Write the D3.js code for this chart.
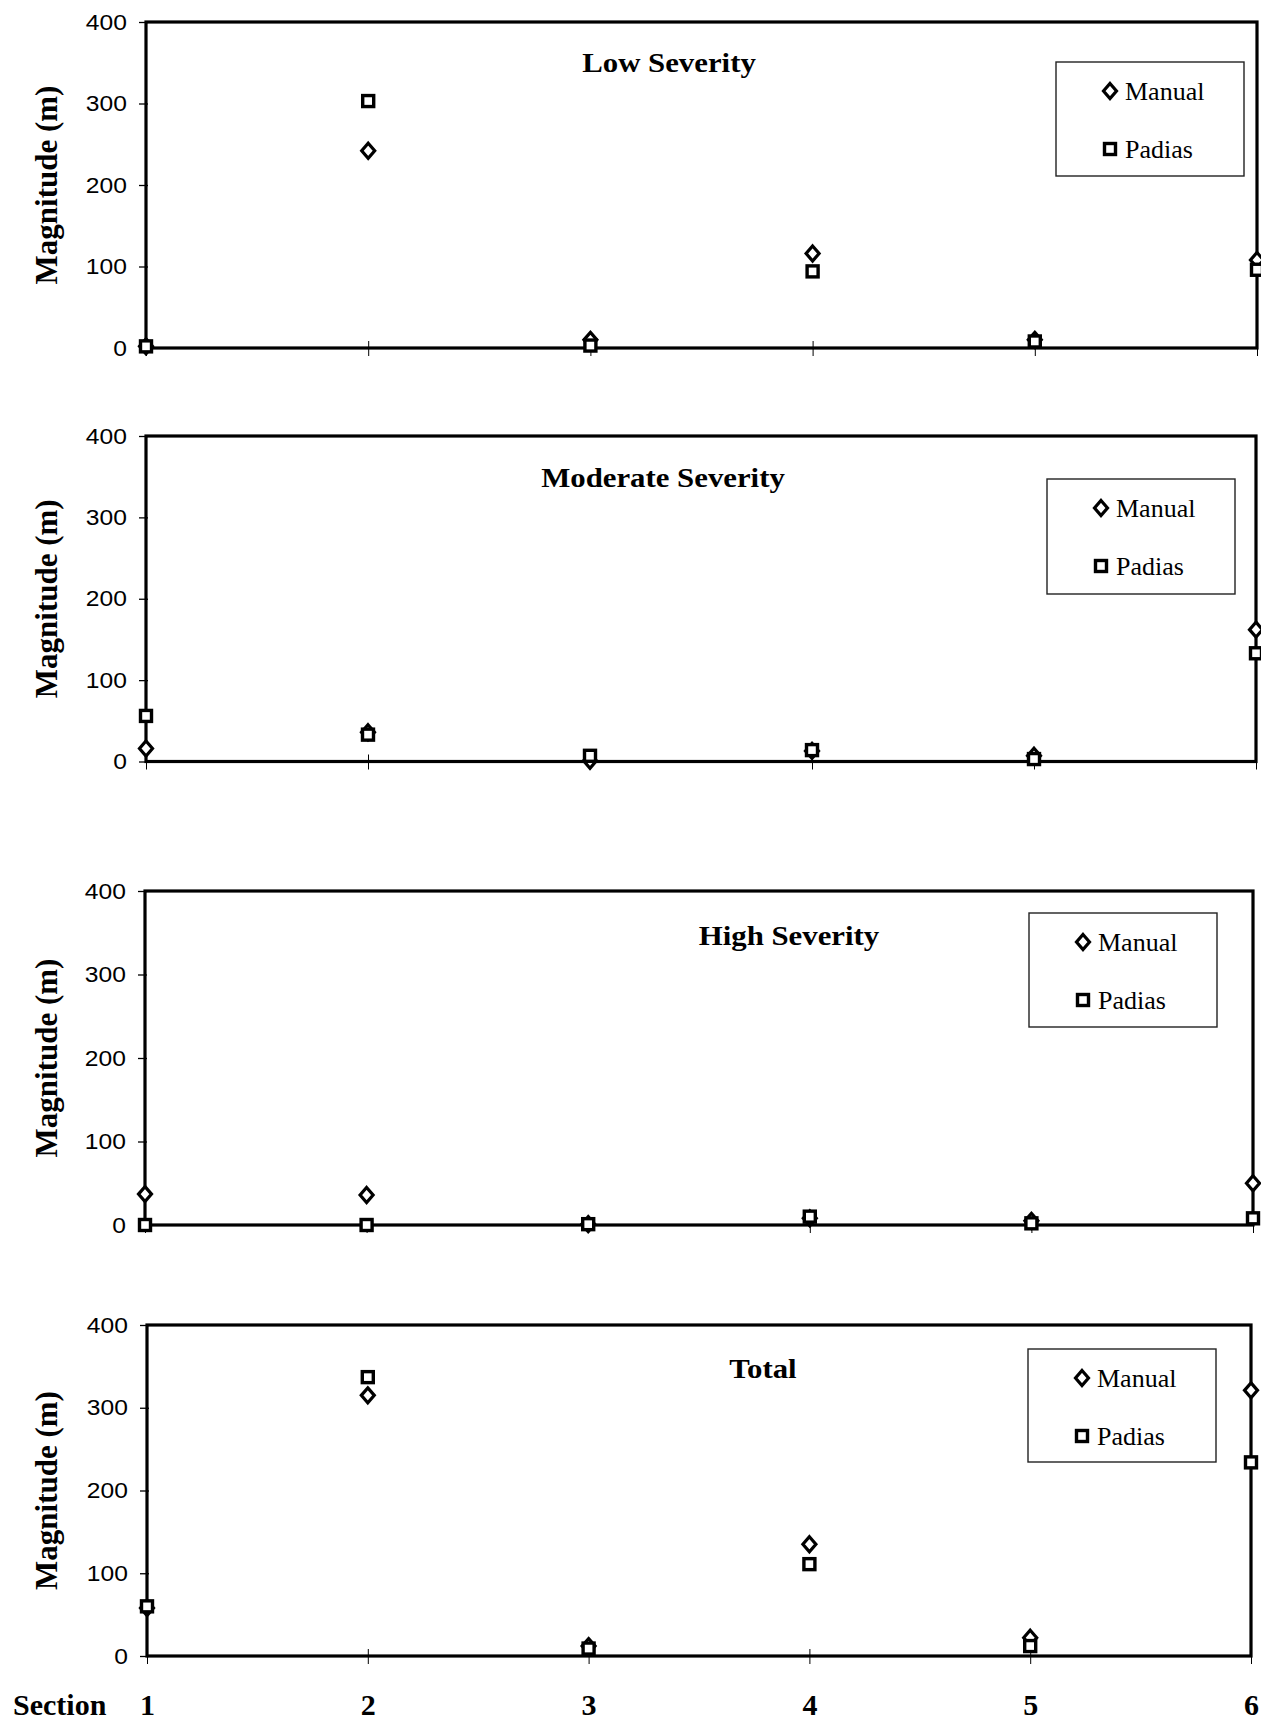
<!DOCTYPE html>
<html>
<head>
<meta charset="utf-8">
<script src="https://cdn.jsdelivr.net/npm/d3@7"></script>
<style>
  html, body { margin: 0; padding: 0; background: #fff; }
  svg { display: block; }
</style>
</head>
<body>
<svg id="chart" width="1261" height="1721"></svg>
<script>
// ---------------- DATA ----------------
const sections = [1, 2, 3, 4, 5, 6];
const yTicks = [0, 100, 200, 300, 400];
const panelTitles = ["Low Severity", "Moderate Severity", "High Severity", "Total"];
const seriesNames = ["Manual", "Padias"];

const lowManual      = [2, 242, 10, 116, 10, 108];
const lowPadias      = [2, 303, 3, 94, 8, 96];
const moderateManual = [16, 36, 1, 13, 7, 162];
const moderatePadias = [56, 33, 7, 14, 3, 133];
const highManual     = [37, 36, 1, 8, 5, 50];
const highPadias     = [0, 0, 1, 10, 2, 8];
const totalManual    = [58, 315, 12, 135, 22, 321];
const totalPadias    = [60, 337, 9, 111, 12, 234];

const xAxisTitle = "Section";
const yAxisTitle = "Magnitude (m)";

// ---------------- LAYOUT ----------------
const panels = [
  { title: panelTitles[0], manual: lowManual, padias: lowPadias },
  { title: panelTitles[1], manual: moderateManual, padias: moderatePadias },
  { title: panelTitles[2], manual: highManual, padias: highPadias },
  { title: panelTitles[3], manual: totalManual, padias: totalPadias }
];
const boxes = [
  { left: 146, right: 1257, top: 22,  bottom: 348,  titleX: 669, titleY: 72,   lg: { x0: 1056, x1: 1244, y0: 62,  y1: 176 } },
  { left: 146, right: 1256, top: 436, bottom: 761.5, titleX: 663, titleY: 487, lg: { x0: 1047, x1: 1235, y0: 479, y1: 594 } },
  { left: 145, right: 1253, top: 891, bottom: 1225, titleX: 789, titleY: 945,  lg: { x0: 1029, x1: 1217, y0: 913, y1: 1027 } },
  { left: 147, right: 1251, top: 1325, bottom: 1656, titleX: 763, titleY: 1378, lg: { x0: 1028, x1: 1216, y0: 1349, y1: 1462 } }
];

const SERIF = "'Liberation Serif', 'Times New Roman', Times, serif";
const SANS = "'Liberation Sans', Arial, Helvetica, sans-serif";

const svg = d3.select("#chart");

const diamondPath = (hw, hh) => `M0,${-hh}L${hw},0L0,${hh}L${-hw},0Z`;

function drawMarker(g, type, x, y) {
  if (type === "Manual") {
    g.append("path")
      .attr("d", diamondPath(6.5, 7.5))
      .attr("transform", `translate(${x},${y})`)
      .attr("fill", "#fff").attr("stroke", "#000").attr("stroke-width", 3.2)
      .attr("stroke-linejoin", "miter");
  } else {
    g.append("rect")
      .attr("x", x - 5.5).attr("y", y - 5.5)
      .attr("width", 11).attr("height", 11)
      .attr("fill", "#fff").attr("stroke", "#000").attr("stroke-width", 3.4);
  }
}

panels.forEach((p, i) => {
  const b = boxes[i];
  const g = svg.append("g");

  const x = d3.scalePoint().domain(sections).range([b.left, b.right]);
  const y = d3.scaleLinear().domain([0, 400]).range([b.bottom, b.top]);

  // frame
  g.append("rect")
    .attr("x", b.left).attr("y", b.top)
    .attr("width", b.right - b.left).attr("height", b.bottom - b.top)
    .attr("fill", "none").attr("stroke", "#000").attr("stroke-width", 3.2);

  // y axis
  const ya = g.append("g")
    .attr("transform", `translate(${b.left},0)`)
    .call(d3.axisLeft(y).tickValues(yTicks).tickSize(7).tickPadding(10).tickFormat(d3.format("d")));
  ya.select(".domain").remove();
  ya.selectAll(".tick line").attr("stroke", "#000").attr("stroke-width", 1.3).attr("x2", -7).attr("x1", 2);
  ya.selectAll(".tick text")
    .attr("font-family", SANS).attr("font-size", 22).attr("fill", "#000")
    .attr("transform", "scale(1.12,1)");

  // x axis ticks (crossing)
  const xa = g.append("g")
    .attr("transform", `translate(0,${b.bottom})`)
    .call(d3.axisBottom(x).tickSize(7).tickFormat(""));
  xa.select(".domain").remove();
  xa.selectAll(".tick line").attr("stroke", "#000").attr("stroke-width", 1).attr("y1", -7).attr("y2", 8);

  // y axis title
  g.append("text")
    .attr("transform", `translate(46,${(b.top + b.bottom) / 2}) rotate(-90)`)
    .attr("text-anchor", "middle").attr("dominant-baseline", "central")
    .attr("font-family", SERIF).attr("font-weight", "bold").attr("font-size", 31)
    .text(yAxisTitle);

  // panel title
  g.append("text")
    .attr("transform", `translate(${b.titleX},${b.titleY}) scale(1.1,1)`)
    .attr("text-anchor", "middle")
    .attr("font-family", SERIF).attr("font-weight", "bold").attr("font-size", 28)
    .text(p.title);

  // legend
  const lg = g.append("g");
  lg.append("rect")
    .attr("x", b.lg.x0).attr("y", b.lg.y0)
    .attr("width", b.lg.x1 - b.lg.x0).attr("height", b.lg.y1 - b.lg.y0)
    .attr("fill", "#fff").attr("stroke", "#222").attr("stroke-width", 1.4);
  seriesNames.forEach((name, k) => {
    const my = b.lg.y0 + 29 + k * 58;
    const mx = b.lg.x0 + 54;
    drawMarker(lg, name, mx, my);
    lg.append("text")
      .attr("x", mx + 15).attr("y", my + 9)
      .attr("font-family", SERIF).attr("font-size", 26)
      .text(name);
  });

  // data points: Manual first, Padias on top
  const pts = g.append("g");
  p.manual.forEach((v, k) => drawMarker(pts, "Manual", x(sections[k]), y(v)));
  p.padias.forEach((v, k) => drawMarker(pts, "Padias", x(sections[k]), y(v)));

  // bottom panel: section labels
  if (i === panels.length - 1) {
    const xl = g.append("g")
      .attr("transform", `translate(0,${b.bottom})`)
      .call(d3.axisBottom(x).tickSize(0).tickPadding(0).tickFormat(d3.format("d")));
    xl.select(".domain").remove();
    xl.selectAll(".tick text")
      .attr("y", 59).attr("dy", 0)
      .attr("font-family", SERIF).attr("font-weight", "bold").attr("font-size", 30)
      .attr("fill", "#000");
    g.append("text")
      .attr("x", 13).attr("y", b.bottom + 59)
      .attr("font-family", SERIF).attr("font-weight", "bold").attr("font-size", 30)
      .text(xAxisTitle);
  }
});
</script>
</body>
</html>
